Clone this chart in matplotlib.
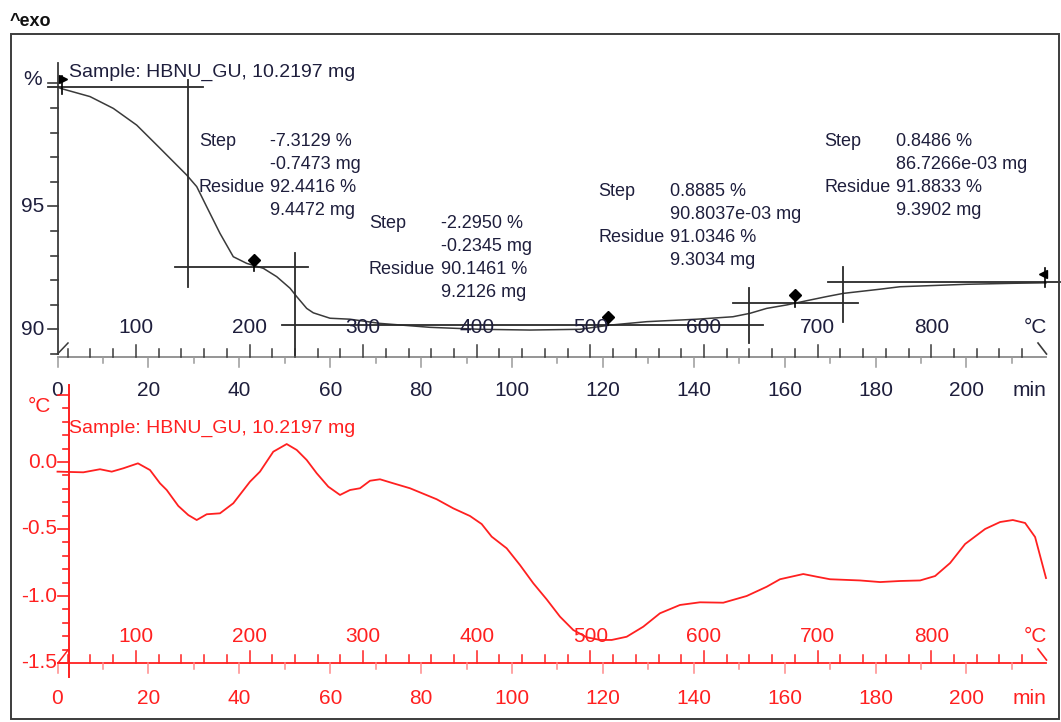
import matplotlib
matplotlib.use('Agg')
import matplotlib.pyplot as plt
from matplotlib.transforms import Affine2D, blended_transform_factory
from matplotlib.patches import Rectangle

plt.rcParams['font.family'] = ['Liberation Sans', 'DejaVu Sans']

# ---------------- data ----------------
# TGA curve: time (min) vs mass (%)
tga_time = [0.55, 7.15, 12.28, 17.43, 22.55, 28.43, 30.63, 32.83, 35.75, 38.68,
            41.63, 45.28, 48.23, 51.16, 52.63, 54.83, 56.28, 59.96, 64.36, 70.96,
            81.96, 92.96, 103.96, 114.96, 121.56, 129.64, 140.64, 148.6, 152.37,
            156.04, 160.44, 165.57, 169.24, 172.89, 180.97, 185.37, 200.04, 210.23, 217.5]
tga_pct = [99.80, 99.46, 98.98, 98.30, 97.36, 96.27, 95.80, 94.98, 93.90, 92.95,
           92.68, 92.48, 92.14, 91.67, 91.33, 90.85, 90.67, 90.45, 90.41, 90.24,
           90.08, 90.00, 89.97, 90.00, 90.17, 90.31, 90.41, 90.51, 90.65,
           90.85, 90.99, 91.19, 91.33, 91.46, 91.63, 91.73, 91.83, 91.87, 91.89]

# DSC curve: time (min) vs signal (°C)
dsc_time = [0.0, 5.68, 9.35, 11.93, 14.48, 17.7, 20.35, 22.55, 24.03, 26.58, 28.78,
            30.63, 32.83, 35.75, 38.68, 42.35, 44.55, 47.48, 50.43, 52.63, 54.83,
            57.03, 59.58, 62.16, 64.36, 66.56, 68.76, 70.96, 73.88, 77.56, 83.43,
            87.09, 90.76, 93.33, 95.53, 98.83, 101.76, 104.69, 107.63, 110.56,
            113.49, 116.43, 119.36, 121.94, 125.24, 128.89, 132.56, 136.96, 141.36,
            146.49, 151.64, 156.04, 158.97, 164.09, 167.04, 169.97, 176.6, 181.0,
            185.4, 189.8, 193.1, 196.4, 199.7, 204.1, 207.4, 210.2, 212.9, 215.1, 217.5]
dsc_val = [-0.072, -0.077, -0.054, -0.072, -0.047, -0.010, -0.060, -0.159, -0.209,
           -0.328, -0.396, -0.433, -0.390, -0.383, -0.308, -0.147, -0.072, 0.077,
           0.134, 0.090, 0.015, -0.084, -0.184, -0.246, -0.209, -0.196, -0.140,
           -0.129, -0.159, -0.196, -0.278, -0.346, -0.403, -0.463, -0.557, -0.644,
           -0.769, -0.905, -1.025, -1.154, -1.254, -1.308, -1.328, -1.328, -1.304,
           -1.229, -1.129, -1.067, -1.047, -1.050, -1.000, -0.931, -0.875, -0.836,
           -0.856, -0.875, -0.884, -0.896, -0.888, -0.884, -0.851, -0.754, -0.612,
           -0.500, -0.448, -0.433, -0.455, -0.560, -0.866]

time_ticks = [0, 20, 40, 60, 80, 100, 120, 140, 160, 180, 200]
temp_ticks = [100, 200, 300, 400, 500, 600, 700, 800]
tga_yticks = [90, 95]
dsc_yticks = [0.0, -0.5, -1.0, -1.5]
dsc_ytick_labels = ['0.0', '-0.5', '-1.0', '-1.5']
T0, RATE = 31.0, 4.0          # start temperature (°C), heating rate (K/min)
T_END = 217.5                  # min

# step-evaluation construction lines (TGA)
h_lines = [(99.86, -2.1, 32.0), (92.52, 25.9, 55.2), (90.19, 49.4, 155.2),
           (91.06, 148.7, 176.2), (91.91, 169.6, 220.6)]
v_lines = [(28.7, 91.72, 100.13), (52.25, 88.96, 93.10), (152.2, 89.43, 91.67),
           (172.9, 90.31, 92.545)]
diamonds = [(43.3, 92.80, 92.35), (121.2, 90.49, 90.18), (162.3, 91.39, 90.92)]

step_blocks = [
    (199, 270, 146, ['-7.3129 %', '-0.7473 mg', '92.4416 %', '9.4472 mg']),
    (369, 441, 228, ['-2.2950 %', '-0.2345 mg', '90.1461 %', '9.2126 mg']),
    (598, 670, 196, ['0.8885 %', '90.8037e-03 mg', '91.0346 %', '9.3034 mg']),
    (824, 896, 146, ['0.8486 %', '86.7266e-03 mg', '91.8833 %', '9.3902 mg']),
]
sample_label = 'Sample: HBNU_GU, 10.2197 mg'

# ---------------- figure ----------------
W, H = 1061, 722
fig = plt.figure(figsize=(W / 100, H / 100), dpi=100)
PX = Affine2D().scale(1.0 / W, -1.0 / H).translate(0, 1) + fig.transFigure

TXT = '#1e1e3c'
DARK = '#3a3a3a'
RED = '#ff2020'
PINK = '#ff8a8a'

def t_of(T):
    return (T - T0) / RATE

X0, X1 = 57.5, 1046.0

def make_axes(ytop, ybot):
    return fig.add_axes([X0 / W, 1 - ybot / H, (X1 - X0) / W, (ybot - ytop) / H])

# upper axes (TGA)
ax1 = make_axes(63, 357)
ax1.set_xlim(0, T_END)
ax1.set_ylim(90 - (357 - 329.3) / 24.6, 90 + (329.3 - 63) / 24.6)
ax1.axis('off')
# lower axes (DSC)
ax2 = make_axes(385, 663)
ax2.set_xlim(0, T_END)
ax2.set_ylim(-1.5, (462 - 385) / 134.0)
ax2.axis('off')

fig.add_artist(Rectangle((11 / W, 1 - 719 / H), (1059 - 11) / W, (719 - 33.5) / H,
                         transform=fig.transFigure, fill=False, ec='#3c3c3c', lw=1.4))
fig.text(10, 26, '^exo', transform=PX, fontsize=13, fontweight='bold',
         color='#111111', va='baseline', ha='left')

def time_axis(ax, y_axis, c_line, c_top, c_bot, c_txt, y_temp_base, y_time_base):
    bx = blended_transform_factory(ax.transData, PX)
    ax.plot([0, T_END], [y_axis, y_axis], transform=bx, color=c_line, lw=1.3, clip_on=False)
    for t in range(0, 211, 10):
        ln = 10 if t % 20 == 0 else 6
        ax.plot([t, t], [y_axis, y_axis + ln], transform=bx, color=c_bot, lw=1.1, clip_on=False)
    for T in range(40, 881, 20):
        ln = 12 if T % 100 == 0 else 8
        ax.plot([t_of(T)] * 2, [y_axis, y_axis - ln], transform=bx, color=c_top, lw=1.1,
                clip_on=False)
    for T in temp_ticks:
        ax.text(t_of(T), y_temp_base, str(T), transform=bx, ha='center', va='baseline',
                fontsize=15, color=c_txt)
    for t in time_ticks:
        ax.text(t, y_time_base, str(t), transform=bx, ha='center', va='baseline',
                fontsize=15, color=c_txt)
    fig.text(1035, y_temp_base, '°C', transform=PX, ha='center', va='baseline',
             fontsize=15, color=c_txt)
    fig.text(1030, y_time_base, 'min', transform=PX, ha='center', va='baseline',
             fontsize=15, color=c_txt)
    fig.lines.append(plt.Line2D([1038, 1046.5], [y_axis - 14, y_axis - 3], transform=PX,
                                color=c_top, lw=1.2))

# ---- upper axis decorations ----
time_axis(ax1, 357, '#8c8c8c', DARK, '#9a9a9a', TXT, 333, 396.5)
by1 = blended_transform_factory(PX, ax1.transData)
ax1.plot([X0, X0], [89, ax1.get_ylim()[1]], transform=by1, color=DARK, lw=1.3, clip_on=False)
for v in range(89, 101):
    ln = 10 if v % 5 == 0 else 7
    ax1.plot([X0 - ln, X0], [v, v], transform=by1, color=DARK, lw=1.2, clip_on=False)
for v in tga_yticks:
    ax1.text(44, v, str(v), transform=by1, ha='right', va='center', fontsize=15, color=TXT)
fig.text(42, 85, '%', transform=PX, ha='right', va='baseline', fontsize=15, color=TXT)
fig.lines.append(plt.Line2D([X0, 68], [354, 343], transform=PX, color=DARK, lw=1.1))

ax1.plot(tga_time, tga_pct, color=DARK, lw=1.1, clip_on=False)
for p, ta, tb in h_lines:
    ax1.plot([ta, tb], [p, p], color='#2a2a2a', lw=1.3, clip_on=False)
for t, pa, pb in v_lines:
    ax1.plot([t, t], [pa, pb], color='#2a2a2a', lw=1.3, clip_on=False)
for t, p, pstem in diamonds:
    ax1.plot([t, t], [p, pstem], color='black', lw=1.2, clip_on=False)
    ax1.plot([t], [p], marker='D', ms=6, color='black', clip_on=False)
ax1.plot([0.9, 0.9], [100.29, 99.55], color='black', lw=1.2, clip_on=False)
ax1.plot([1.3], [100.18], marker='>', ms=6, color='black', clip_on=False)
ax1.plot([217.2, 217.2], [92.49, 91.72], color='black', lw=1.2, clip_on=False)
ax1.plot([216.8], [92.25], marker='<', ms=6, color='black', clip_on=False)

fig.text(69, 77, sample_label, transform=PX, ha='left', va='baseline', fontsize=14, color=TXT)
for xs, xv, yb, vals in step_blocks:
    labels = ['Step', '', 'Residue', '']
    for i, (lab, val) in enumerate(zip(labels, vals)):
        yy = yb + i * 23
        if lab:
            fig.text(xs, yy, lab, transform=PX, ha='left', va='baseline', fontsize=13, color=TXT)
        fig.text(xv, yy, val, transform=PX, ha='left', va='baseline', fontsize=13, color=TXT)

# ---- lower axis decorations ----
time_axis(ax2, 663, RED, RED, PINK, RED, 641.5, 703.5)
YAX = 69.0
by2 = blended_transform_factory(PX, ax2.transData)
ax2.plot([YAX, YAX], [-1.604, ax2.get_ylim()[1]], transform=by2, color=RED, lw=1.4,
         clip_on=False)
for k in range(-15, 6):
    v = k / 10.0
    ln = 11 if k % 5 == 0 else 6
    ax2.plot([YAX - ln, YAX], [v, v], transform=by2, color=RED, lw=1.2, clip_on=False)
for v, lab in zip(dsc_yticks, dsc_ytick_labels):
    ax2.text(57, v, lab, transform=by2, ha='right', va='center', fontsize=15, color=RED)
fig.text(39, 412, '°C', transform=PX, ha='center', va='baseline', fontsize=15, color=RED)
fig.lines.append(plt.Line2D([58, 68], [663, 650], transform=PX, color=RED, lw=1.1))

ax2.plot(dsc_time, dsc_val, color=RED, lw=1.3, clip_on=False)
fig.text(69, 433, sample_label, transform=PX, ha='left', va='baseline', fontsize=14, color=RED)

fig.savefig('out.png', dpi=100)
